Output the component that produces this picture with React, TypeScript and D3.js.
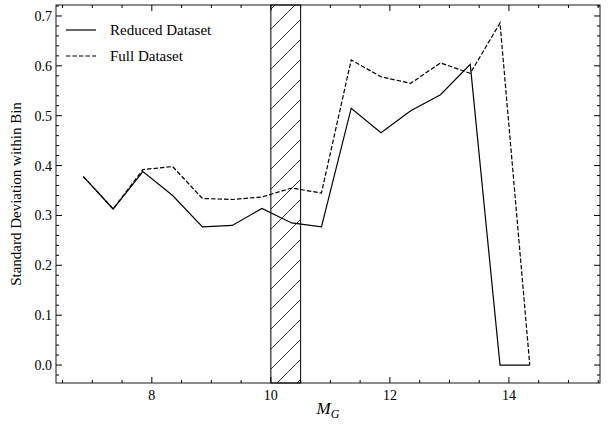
import React from "react";
import * as d3 from "d3";

const xs = [6.85,7.35,7.85,8.35,8.85,9.35,9.85,10.35,10.85,11.35,11.85,12.35,12.85,13.35,13.85,14.35];
const reduced = [0.378,0.313,0.388,0.34,0.277,0.28,0.314,0.285,0.277,0.515,0.466,0.51,0.542,0.603,0.0,0.0];
const full = [0.378,0.313,0.392,0.398,0.334,0.332,0.337,0.355,0.345,0.612,0.578,0.565,0.606,0.585,0.686,0.0];
const xTicks = [8,10,12,14];
const yTicks = [0,0.1,0.2,0.3,0.4,0.5,0.6,0.7];
const band = [10,10.5];

export default function App() {
  const L=56,R=600,T=5,B=383;
  const x=d3.scaleLinear().domain([6.39,15.53]).range([L,R]);
  const y=d3.scaleLinear().domain([-0.036,0.722]).range([B,T]);
  const line=(vals:number[])=>d3.line<number>().x((_,i)=>x(xs[i])).y(v=>y(v))(vals)!;
  const xMinor=d3.range(6.5,15.51,0.5).filter(v=>!xTicks.includes(v));
  const yMinor=d3.range(-0.02,0.721,0.02).filter(v=>Math.abs(v*10-Math.round(v*10))>1e-6);
  const font='"Liberation Serif", "DejaVu Serif", serif';
  return (
    <svg width={608} height={424} style={{position:"absolute",left:0,top:0,background:"#fff"}} fontFamily={font}>
      <defs>
        <pattern id="h" patternUnits="userSpaceOnUse" width={20} height={20}>
          <path d="M-1,21 L21,-1 M-10,10 L10,-10 M10,30 L30,10" stroke="#000" strokeWidth={0.8}/>
        </pattern>
        <clipPath id="c"><rect x={L} y={T} width={R-L} height={B-T}/></clipPath>
      </defs>
      <rect x={x(band[0])} y={T} width={x(band[1])-x(band[0])} height={B-T} fill="url(#h)" stroke="#000" strokeWidth={1}/>
      <g clipPath="url(#c)">
        <path d={line(full)} fill="none" stroke="#000" strokeWidth={1.2} strokeDasharray="4.5,2"/>
        <path d={line(reduced)} fill="none" stroke="#000" strokeWidth={1.2}/>
      </g>
      <rect x={L} y={T} width={R-L} height={B-T} fill="none" stroke="#000" strokeWidth={0.9}/>
      {xTicks.map(t=>(<g key={t}>
        <line x1={x(t)} x2={x(t)} y1={B} y2={B-6} stroke="#000"/>
        <line x1={x(t)} x2={x(t)} y1={T} y2={T+6} stroke="#000"/>
        <text x={x(t)} y={B+17} textAnchor="middle" fontSize={14}>{t}</text></g>))}
      {xMinor.map(t=>(<g key={t}>
        <line x1={x(t)} x2={x(t)} y1={B} y2={B-3} stroke="#000"/>
        <line x1={x(t)} x2={x(t)} y1={T} y2={T+3} stroke="#000"/></g>))}
      {yTicks.map(t=>(<g key={t}>
        <line x1={L} x2={L+6} y1={y(t)} y2={y(t)} stroke="#000"/>
        <line x1={R} x2={R-6} y1={y(t)} y2={y(t)} stroke="#000"/>
        <text x={L-4} y={y(t)+5} textAnchor="end" fontSize={14}>{t.toFixed(1)}</text></g>))}
      {yMinor.map(t=>(<g key={t}>
        <line x1={L} x2={L+3} y1={y(t)} y2={y(t)} stroke="#000"/>
        <line x1={R} x2={R-3} y1={y(t)} y2={y(t)} stroke="#000"/></g>))}
      <text x={(L+R)/2} y={414} textAnchor="middle" fontSize={17} fontStyle="italic">M<tspan fontSize={12} dy={4}>G</tspan></text>
      <text transform={`translate(21,${(T+B)/2}) rotate(-90)`} textAnchor="middle" fontSize={15}>Standard Deviation within Bin</text>
      <line x1={66} x2={96} y1={30} y2={30} stroke="#000" strokeWidth={1.2}/>
      <text x={110} y={35} fontSize={15}>Reduced Dataset</text>
      <line x1={66} x2={96} y1={56} y2={56} stroke="#000" strokeWidth={1.2} strokeDasharray="4.5,2"/>
      <text x={110} y={61} fontSize={15}>Full Dataset</text>
    </svg>
  );
}
